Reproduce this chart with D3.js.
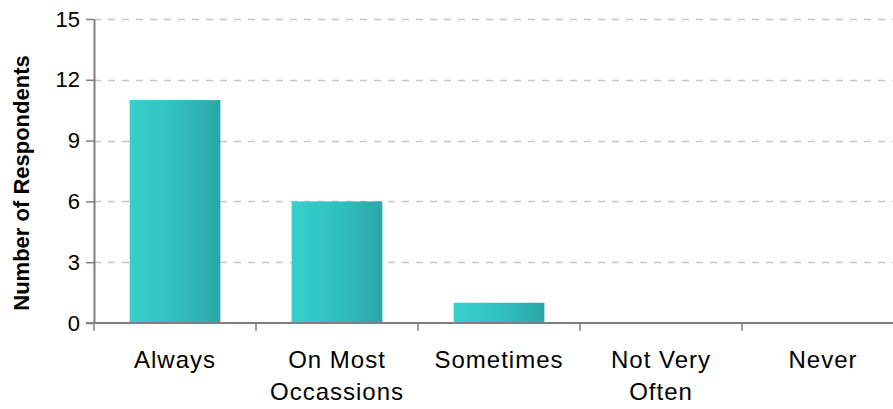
<!DOCTYPE html>
<html>
<head>
<meta charset="utf-8">
<script src="https://cdn.jsdelivr.net/npm/d3@7"></script>
<style>
  html, body { margin: 0; padding: 0; background: #fff; }
  svg { display: block; }
</style>
</head>
<body>
<svg id="chart" width="893" height="409"></svg>
<script>
// Survey responses: how often respondents do it
const categories = [["Always"], ["On Most", "Occassions"], ["Sometimes"], ["Not Very", "Often"], ["Never"]];
const values = [11, 6, 1, 0, 0];
const yTicks = [0, 3, 6, 9, 12, 15];
const yTitle = "Number of Respondents";

const width = 893, height = 409;
const margin = { left: 94, top: 19, bottom: 86 };
const plotW = 810; // five 162px bands, the last runs past the right edge
const svg = d3.select("#chart");

const keys = categories.map(c => c.join(" "));
const x = d3.scaleBand().domain(keys).range([margin.left, margin.left + plotW])
  .paddingInner(0.44).paddingOuter(0.22);
const y = d3.scaleLinear().domain([0, 15]).range([height - margin.bottom, margin.top]);

// horizontal gradient for the bars
const defs = svg.append("defs");
const grad = defs.append("linearGradient").attr("id", "barGrad")
  .attr("x1", "0%").attr("x2", "100%").attr("y1", "0%").attr("y2", "0%");
grad.append("stop").attr("offset", "0%").attr("stop-color", "#36cfcd");
grad.append("stop").attr("offset", "45%").attr("stop-color", "#32c3c1");
grad.append("stop").attr("offset", "100%").attr("stop-color", "#2aa7a6");

// dashed gridlines
svg.append("g").selectAll("line").data(yTicks.filter(d => d > 0)).join("line")
  .attr("x1", margin.left).attr("x2", width)
  .attr("y1", d => Math.round(y(d)) + 0.5).attr("y2", d => Math.round(y(d)) + 0.5)
  .attr("stroke", "#c8c8c8").attr("stroke-width", 1.5)
  .attr("stroke-dasharray", "7,7");

// bars
svg.append("g").selectAll("rect").data(values).join("rect")
  .attr("x", (d, i) => x(keys[i]))
  .attr("width", x.bandwidth())
  .attr("y", d => y(d))
  .attr("height", d => y(0) - y(d))
  .attr("fill", "url(#barGrad)");

// y axis
const yAxis = d3.axisLeft(y).tickValues(yTicks).tickSize(8).tickPadding(6).tickSizeOuter(0);
const gy = svg.append("g").attr("transform", `translate(${margin.left},0)`).call(yAxis);
gy.select(".domain").attr("stroke", "#7f7f7f").attr("stroke-width", 2);
gy.selectAll(".tick line").attr("stroke", "#7f7f7f").attr("stroke-width", 1.5);
gy.selectAll(".tick text")
  .attr("font-family", "'Liberation Sans', Arial, sans-serif")
  .attr("font-size", 22).attr("fill", "#000");

// x axis: ticks at band boundaries
const x0 = margin.left;
const step = x.step();
const gx = svg.append("g");
gx.append("line")
  .attr("x1", x0 - 8).attr("x2", width)
  .attr("y1", y(0)).attr("y2", y(0))
  .attr("stroke", "#7f7f7f").attr("stroke-width", 2);
gx.selectAll("line.tk").data(d3.range(0, keys.length + 1)).join("line")
  .attr("class", "tk")
  .attr("x1", i => x0 + i * step).attr("x2", i => x0 + i * step)
  .attr("y1", y(0)).attr("y2", y(0) + 8)
  .attr("stroke", "#7f7f7f").attr("stroke-width", 1.5);

// category labels
const lbl = gx.selectAll("text").data(categories).join("text")
  .attr("text-anchor", "middle")
  .attr("font-family", "'Liberation Sans', Arial, sans-serif")
  .attr("font-size", 24)
  .attr("letter-spacing", 1)
  .attr("fill", "#000")
  .attr("transform", (d, i) => `translate(${x(keys[i]) + x.bandwidth() / 2},${y(0) + 45})`);
lbl.selectAll("tspan").data(d => d).join("tspan")
  .attr("x", 0).attr("dy", (d, j) => j === 0 ? 0 : 32)
  .text(d => d);

// y axis title
svg.append("text")
  .attr("transform", `translate(29,183) rotate(-90)`)
  .attr("text-anchor", "middle")
  .attr("font-family", "'Liberation Sans', Arial, sans-serif")
  .attr("font-weight", "bold").attr("font-size", 22)
  .attr("fill", "#000")
  .text(yTitle);
</script>
</body>
</html>
